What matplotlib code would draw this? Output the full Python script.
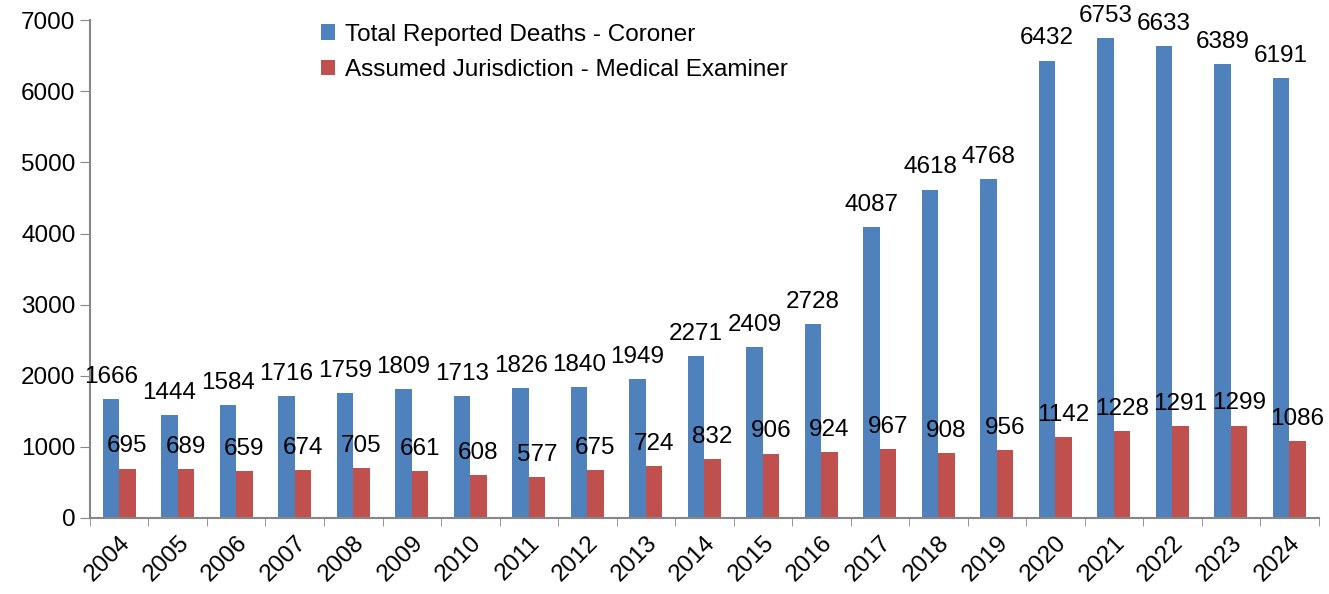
#Importing the Required Libraries and Modules
import matplotlib
matplotlib.use("Agg")
import matplotlib.pyplot as plt
import numpy as np

#Chart Data
years = [str(y) for y in range(2004, 2025)]
coroner = [1666, 1444, 1584, 1716, 1759, 1809, 1713, 1826, 1840, 1949, 2271,
           2409, 2728, 4087, 4618, 4768, 6432, 6753, 6633, 6389, 6191]
med_examiner = [695, 689, 659, 674, 705, 661, 608, 577, 675, 724, 832,
                906, 924, 967, 908, 956, 1142, 1228, 1291, 1299, 1086]

plt.rcParams['font.family'] = ['Liberation Sans', 'DejaVu Sans']
blue = "#4F81BD"
red = "#C0504D"
axis_grey = "#868686"
fs = 17.5

fig = plt.figure(figsize=(13.29, 5.94), dpi=100)
ax = fig.add_axes([0.0677, 0.128, 0.9245, 0.838])

x = np.arange(len(years))
w = 0.28
b1 = ax.bar(x - w / 2, coroner, w, color=blue, label="Total Reported Deaths - Coroner")
b2 = ax.bar(x + w / 2, med_examiner, w, color=red, label="Assumed Jurisdiction - Medical Examiner")

#Value labels above each bar
for bars, vals in ((b1, coroner), (b2, med_examiner)):
    for rect, v in zip(bars, vals):
        ax.annotate(str(v), (rect.get_x() + rect.get_width() / 2, rect.get_height()),
                    xytext=(0, 8), textcoords="offset points",
                    ha="center", va="bottom", fontsize=fs)

#Axes styling
ax.set_xlim(-0.5, len(years) - 0.5)
ax.set_ylim(0, 7000)
ax.set_yticks(range(0, 7001, 1000))
ax.tick_params(axis='y', labelsize=fs, length=7, color=axis_grey, direction='out')
ax.set_xticks(x)
ax.set_xticklabels(years, rotation=45, ha='right', rotation_mode='anchor', fontsize=fs)
ax.tick_params(axis='x', which='major', length=0, pad=10)
ax.set_xticks(np.arange(-0.5, len(years)), minor=True)
ax.tick_params(axis='x', which='minor', length=6, color=axis_grey)
for s in ("top", "right"):
    ax.spines[s].set_visible(False)
for s in ("left", "bottom"):
    ax.spines[s].set_color(axis_grey)
    ax.spines[s].set_linewidth(1.5)

ax.legend(loc='upper left', bbox_to_anchor=(0.17, 1.037), frameon=False, fontsize=fs,
          handlelength=0.6, handleheight=0.6, handletextpad=0.4, labelspacing=0.55)

plt.savefig("out.png", dpi=100)
